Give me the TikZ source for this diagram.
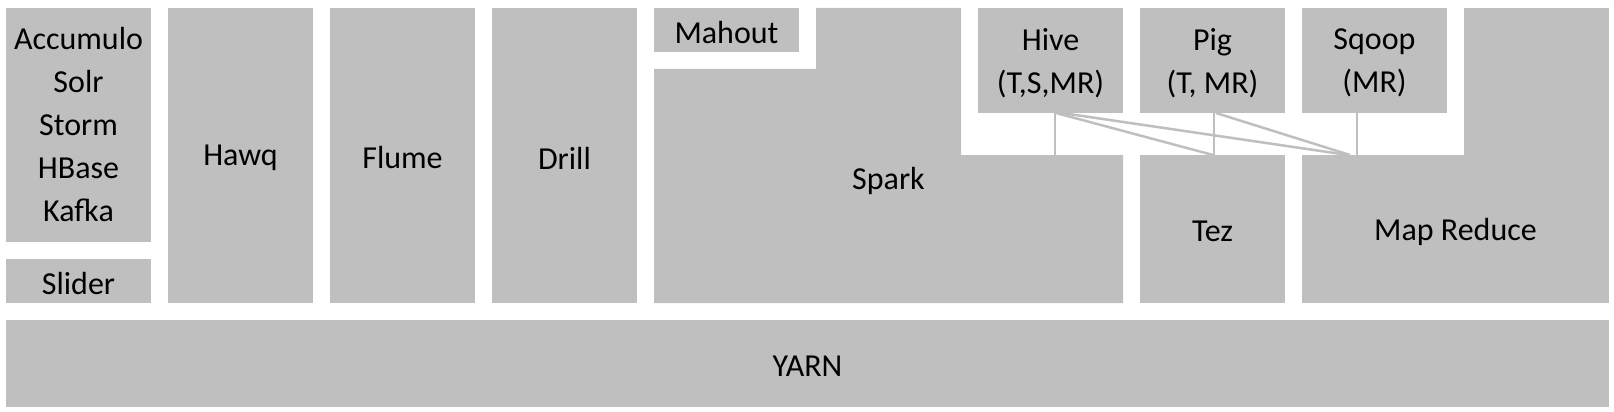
\documentclass[tikz,border=0pt]{standalone}
\usepackage{fontspec}
\setmainfont{Carlito}
\definecolor{boxgray}{HTML}{BFBFBF}
\begin{document}
\begin{tikzpicture}[x=1pt,y=-1pt,
  box/.style={fill=boxgray, draw=none, inner sep=0pt, outer sep=0pt},
  lbl/.style={inner sep=0pt, outer sep=0pt, align=center, yshift=-2.5pt,
    font=\fontsize{32}{43}\selectfont},
  conn/.style={draw=boxgray, line width=2.5pt}]
\useasboundingbox (0,0) rectangle (1614,412);
% left column
\node[box, minimum width=145pt, minimum height=234pt, label={[lbl, yshift=2.5pt]center:Accumulo\\Solr\\Storm\\HBase\\Kafka}] (acc) at (78.5,125) {};
\node[box, minimum width=145pt, minimum height=44pt, label={[lbl]center:Slider}] (slider) at (78.5,281) {};
\node[box, minimum width=145pt, minimum height=295pt, label={[lbl]center:Hawq}] (hawq) at (240.5,155.5) {};
\node[box, minimum width=145pt, minimum height=295pt, label={[lbl]center:Flume}] (flume) at (402.5,155.5) {};
\node[box, minimum width=145pt, minimum height=295pt, label={[lbl]center:Drill}] (drill) at (564.5,155.5) {};
% Mahout
\node[box, minimum width=145pt, minimum height=44pt, label={[lbl]center:Mahout}] (mahout) at (726.5,30) {};
% Spark shape
\fill[boxgray] (654,69) -- (816,69) -- (816,8) -- (961,8) -- (961,155) -- (1123,155) -- (1123,303) -- (654,303) -- cycle;
\node[lbl, yshift=1.5pt] (spark) at (888.5,180) {Spark};
% Hive, Pig, Sqoop
\node[box, minimum width=145pt, minimum height=105pt, label={[lbl]center:Hive\\(T,S,MR)}] (hive) at (1050.5,60.5) {};
\node[box, minimum width=145pt, minimum height=105pt, label={[lbl]center:Pig\\(T, MR)}] (pig) at (1212.5,60.5) {};
\node[box, minimum width=145pt, minimum height=105pt, label={[lbl]center:Sqoop\\(MR)}] (sqoop) at (1374.5,60.5) {};
% Tez
\node[box, minimum width=145pt, minimum height=148pt, label={[lbl]center:Tez}] (tez) at (1212.5,229) {};
% Map Reduce shape
\fill[boxgray] (1464,8) rectangle (1609,155);
\node[box, minimum width=307pt, minimum height=148pt, label={[lbl]center:Map Reduce}] (mr) at (1455.5,229) {};
% YARN
\node[box, minimum width=1603pt, minimum height=87pt, label={[lbl]center:YARN}] (yarn) at (807.5,363.5) {};
% connectors
\draw[conn] ([xshift=4.5pt]hive.south) -- ([xshift=4.5pt]hive.south |- tez.north);
\draw[conn] ([xshift=5.5pt]hive.south) -- ([xshift=0.5pt]tez.north);
\draw[conn] ([xshift=11.5pt]hive.south) -- ([xshift=-107.5pt]mr.north);
\draw[conn] ([xshift=1.5pt]pig.south) -- ([xshift=1.5pt]tez.north);
\draw[conn] ([xshift=3.5pt]pig.south) -- ([xshift=-105.5pt]mr.north);
\draw[conn] ([xshift=-17.5pt]sqoop.south) -- ([xshift=-98.5pt]mr.north);
\end{tikzpicture}
\end{document}
